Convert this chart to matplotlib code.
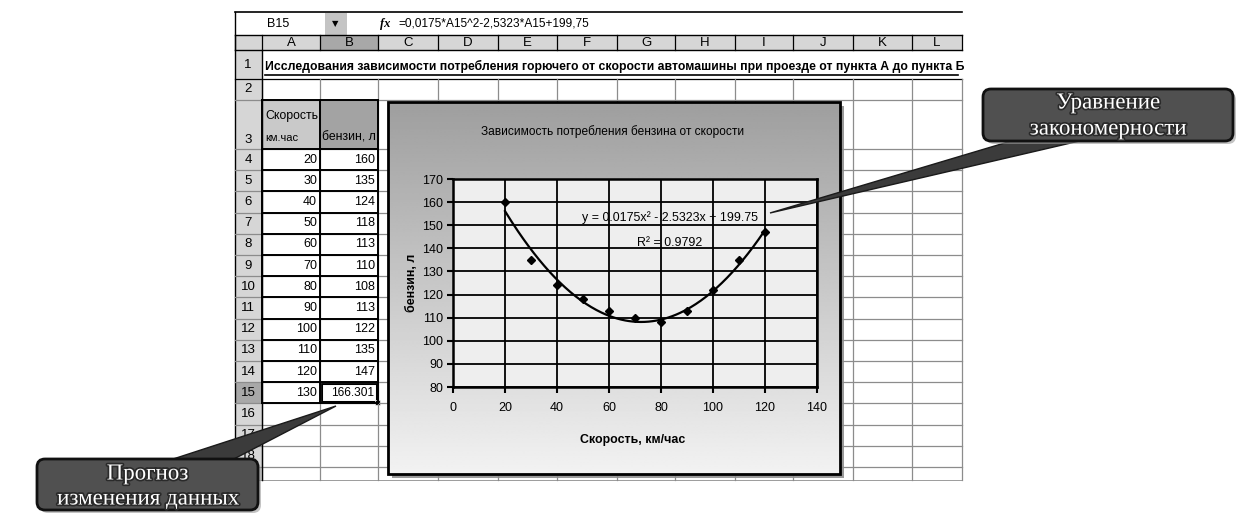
import numpy as np
import matplotlib.pyplot as plt
from matplotlib.patches import Rectangle, FancyBboxPatch, Polygon
import matplotlib.patheffects as pe

plt.rcParams['font.family'] = ['Liberation Sans', 'DejaVu Sans']

# исходные данные таблицы
speed = [20, 30, 40, 50, 60, 70, 80, 90, 100, 110, 120]
fuel = [160, 135, 124, 118, 113, 110, 108, 113, 122, 135, 147]
forecast_speed = 130
forecast_fuel = 166.301
coef = [0.0175, -2.5323, 199.75]
r2 = 0.9792

col_letters = ['A', 'B', 'C', 'D', 'E', 'F', 'G', 'H', 'I', 'J', 'K', 'L']
sheet_title = ('Исследования зависимости потребления горючего от скорости '
               'автомашины при проезде от пункта А до пункта Б')
chart_title = 'Зависимость потребления бензина от скорости'
formula = '=0,0175*A15^2-2,5323*A15+199,75'
head_a = ['Скорость,', 'км.час']
head_b = 'бензин, л'
x_label = 'Скорость, км/час'
y_label = 'бензин, л'
xticks = [0, 20, 40, 60, 80, 100, 120, 140]
yticks = [80, 90, 100, 110, 120, 130, 140, 150, 160, 170]
note_eq = ['Уравнение', 'закономерности']
note_fc = ['Прогноз', 'изменения данных']

W, H = 1238, 520
# границы столбцов листа (в пикселях)
col_x = [235, 262, 320, 378, 438, 498, 557, 617, 675, 735, 793, 853, 912, 962]
row_top = {1: 50, 2: 79, 3: 100}
for r in range(4, 20):
    row_top[r] = 149 + 21.2 * (r - 4)
grid_bottom = 480

fig = plt.figure(figsize=(W / 100, H / 100), dpi=100)
bg = fig.add_axes([0, 0, 1, 1])
bg.set_xlim(0, W)
bg.set_ylim(H, 0)
bg.axis('off')

GRID = '#8c8c8c'
HDR = '#d6d6d6'
HDR_SEL = '#a8a8a8'
FS = 8.8

# строка формул
bg.add_patch(Rectangle((325, 13), 22, 22, fc='#c4c4c4', ec='none'))
bg.plot([235, 962], [12, 12], color='black', lw=1.2)
bg.plot([235, 962], [35, 35], color='black', lw=1)
bg.plot([235, 235], [12, grid_bottom], color='black', lw=1)
bg.text(267, 24, 'B15', fontsize=9, va='center', ha='left')
bg.text(335, 24, '▼', fontsize=6, va='center', ha='center', family='DejaVu Sans')
bg.text(380, 24, 'fx', fontsize=9, va='center', ha='left', style='italic',
        weight='bold', family='Liberation Serif')
bg.text(398, 24, formula, fontsize=8.6, va='center', ha='left')

# заголовки столбцов
bg.add_patch(Rectangle((235, 35), 962 - 235, 15, fc=HDR, ec='none'))
bg.add_patch(Rectangle((col_x[2], 35), col_x[3] - col_x[2], 15, fc=HDR_SEL, ec='none'))
for i, letter in enumerate(col_letters):
    bg.text((col_x[i + 1] + col_x[i + 2]) / 2, 43, letter, fontsize=9.5,
            ha='center', va='center')
for x in col_x:
    bg.plot([x, x], [35, 50], color='black', lw=0.9)
bg.plot([235, 962], [50, 50], color='black', lw=1)

# заголовки строк
bg.add_patch(Rectangle((235, 50), 27, grid_bottom - 50, fc=HDR, ec='none'))
bg.add_patch(Rectangle((235, row_top[15]), 27, row_top[16] - row_top[15],
                       fc=HDR_SEL, ec='none'))
for r in range(1, 19):
    if r == 3:
        bg.text(248, row_top[4] - 3, '3', fontsize=9.5, ha='center', va='bottom')
    else:
        bg.text(248, (row_top[r] + row_top[r + 1]) / 2, str(r), fontsize=9.5,
                ha='center', va='center')

# сетка листа
for r in range(2, 20):
    y = row_top[r]
    bg.plot([235, 962], [y, y], color=GRID if r > 2 else 'black', lw=0.9)
bg.plot([235, 962], [grid_bottom, grid_bottom], color=GRID, lw=0.6)
for x in col_x[1:]:
    bg.plot([x, x], [row_top[2], grid_bottom], color=GRID, lw=0.9)
bg.plot([262, 262], [50, grid_bottom], color='black', lw=1)

# таблица с данными
bg.add_patch(Rectangle((col_x[1], row_top[3]), col_x[2] - col_x[1], row_top[4] - row_top[3],
                       fc='#c9c9c9', ec='none'))
bg.add_patch(Rectangle((col_x[2], row_top[3]), col_x[3] - col_x[2], row_top[4] - row_top[3],
                       fc='#a3a3a3', ec='none'))
bg.text(265, 116, head_a[0], fontsize=FS, ha='left', va='center')
bg.text(265, 138, head_a[1], fontsize=8, ha='left', va='center')
bg.text(322, 138, head_b, fontsize=FS, ha='left', va='center')

for r in range(3, 17):
    bg.plot([col_x[1], col_x[3]], [row_top[r], row_top[r]], color='black', lw=1.4)
for x in col_x[1:4]:
    bg.plot([x, x], [row_top[3], row_top[16]], color='black', lw=1.4)

for i in range(len(speed)):
    yc = (row_top[4 + i] + row_top[5 + i]) / 2
    bg.text(col_x[2] - 3, yc, str(speed[i]), fontsize=9, ha='right', va='center')
    bg.text(col_x[3] - 3, yc, str(fuel[i]), fontsize=9, ha='right', va='center')

yc = (row_top[15] + row_top[16]) / 2
bg.text(col_x[2] - 3, yc, str(forecast_speed), fontsize=9, ha='right', va='center')
bg.text(col_x[3] - 4, yc, f'{forecast_fuel:.3f}', fontsize=8.6, ha='right', va='center')
bg.add_patch(Rectangle((col_x[2] + 1, row_top[15] + 1), col_x[3] - col_x[2] - 2,
                       row_top[16] - row_top[15] - 2, fc='none', ec='black', lw=2.2))
bg.add_patch(Rectangle((col_x[3] - 3, row_top[16] - 3), 5, 5, fc='black', ec='white', lw=0.5))

# заголовок листа (с подчёркиванием)
bg.text(265, 66, sheet_title, fontsize=8.8, weight='bold', ha='left', va='center')
bg.plot([265, 958], [75, 75], color='black', lw=1.2)

# область диаграммы: тень, градиентный фон и рамка
bg.add_patch(Rectangle((392, 106), 840 - 388, 474 - 102, fc='#9a9a9a', ec='none'))
grad = np.linspace(0.62, 0.95, 256)[:, None]
bg.imshow(grad, cmap='gray', vmin=0, vmax=1, extent=(388, 840, 474, 102),
          aspect='auto', interpolation='bilinear', zorder=2)
bg.add_patch(Rectangle((388, 102), 840 - 388, 474 - 102, fc='none', ec='black',
                       lw=2, zorder=3))
bg.set_xlim(0, W)
bg.set_ylim(H, 0)

# область построения
px0, py0, px1, py1 = 453, 179, 817, 387
ax = fig.add_axes([px0 / W, 1 - py1 / H, (px1 - px0) / W, (py1 - py0) / H])
ax.set_facecolor('#eeeeee')
ax.set_xlim(xticks[0], xticks[-1])
ax.set_ylim(yticks[0], yticks[-1])
ax.set_xticks(xticks)
ax.set_yticks(yticks)
ax.grid(True, color='black', lw=1.3)
ax.set_axisbelow(True)
for s in ax.spines.values():
    s.set_linewidth(1.8)
ax.tick_params(axis='both', direction='out', length=4, width=1.5, labelsize=9)
ax.tick_params(axis='x', pad=7)
ax.tick_params(axis='y', pad=3)

ax.plot(speed, fuel, 'D', ms=4.5, color='black', zorder=4)
xs = np.linspace(speed[0], speed[-1], 200)
ax.plot(xs, np.polyval(coef, xs), color='black', lw=1.6, zorder=3)

ax.text(0.596, 0.8125, f'y = {coef[0]}x² - {abs(coef[1])}x + {coef[2]}',
        transform=ax.transAxes, fontsize=8.9, ha='center', va='center')
ax.text(0.596, 0.692, f'R² = {r2}', transform=ax.transAxes, fontsize=8.9,
        ha='center', va='center')

ax.text((613 - px0) / (px1 - px0), (py1 - 132) / (py1 - py0), chart_title,
        transform=ax.transAxes, fontsize=8.6, ha='center', va='center')
ax.set_xlabel(x_label, fontsize=8.9, weight='bold', va='center')
ax.xaxis.set_label_coords((633 - px0) / (px1 - px0), (py1 - 440) / (py1 - py0))
ax.set_ylabel(y_label, fontsize=8.9, weight='bold', va='center')
ax.yaxis.set_label_coords((412 - px0) / (px1 - px0), 0.5)

# выноски с пояснениями
top = fig.add_axes([0, 0, 1, 1])
top.set_xlim(0, W)
top.set_ylim(H, 0)
top.axis('off')
top.patch.set_alpha(0)

glow = [pe.withStroke(linewidth=2.5, foreground='#2a2a2a')]


def callout(box, wedge, lines, line_y):
    x0, y0, x1, y1 = box
    top.add_patch(Polygon(wedge, closed=True, fc='#3b3b3b', ec='#1a1a1a', lw=1))
    top.add_patch(FancyBboxPatch((x0 + 3, y0 + 3), x1 - x0, y1 - y0,
                                 boxstyle='round,pad=0,rounding_size=8',
                                 fc='#9c9c9c', ec='none', alpha=0.6))
    top.add_patch(FancyBboxPatch((x0, y0), x1 - x0, y1 - y0,
                                 boxstyle='round,pad=0,rounding_size=8',
                                 fc='#505050', ec='#111111', lw=2))
    for text, y in zip(lines, line_y):
        top.text((x0 + x1) / 2, y, text, fontsize=16.5, color='white',
                 family='Liberation Serif', ha='center', va='center',
                 path_effects=glow)


callout((983, 89, 1233, 141), [(1018, 139), (1088, 139), (770, 213)],
        note_eq, [103, 129])
callout((37, 459, 258, 510), [(167, 461), (230, 461), (336, 406)],
        note_fc, [474, 499])

fig.savefig('out.png', dpi=100)
